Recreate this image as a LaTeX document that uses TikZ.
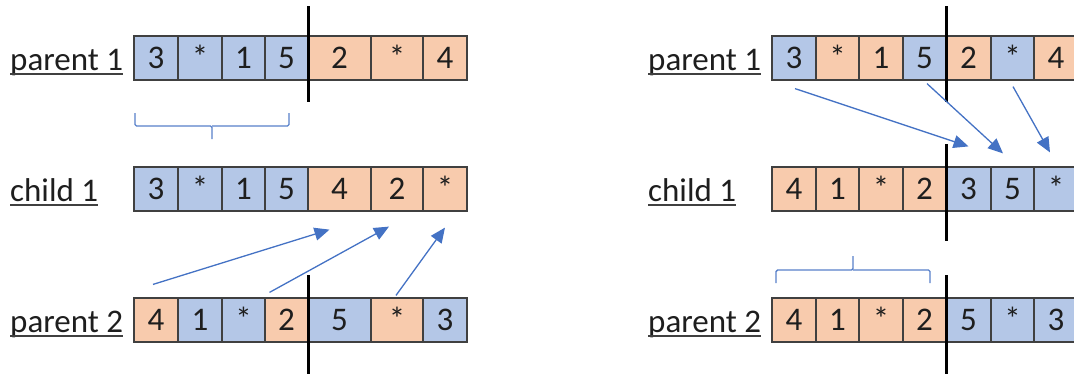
\documentclass[tikz,border=0pt]{standalone}
\usepackage{fontspec}
\setmainfont{Carlito}
\usetikzlibrary{arrows.meta,calc}
\definecolor{cblue}{HTML}{B4C7E7}
\definecolor{corange}{HTML}{F8CBAD}
\definecolor{arrowblue}{HTML}{4472C4}
\definecolor{ink}{HTML}{1E1E1E}
\begin{document}
\begin{tikzpicture}[x=1pt,y=-1pt,
  cell/.style={draw=ink!85, line width=1.2pt, minimum height=44pt, inner sep=0pt,
    text height=21pt, text depth=0pt, text=ink, font=\fontsize{33}{40}\selectfont},
  lab/.style={inner sep=0pt, anchor=base west, text=ink, font=\fontsize{33}{40}\selectfont},
  uline/.style={draw=ink!85, line width=1.6pt},
  cut/.style={draw=black, line width=3.4pt},
  arr/.style={draw=arrowblue, line width=1.3pt, -{Triangle[length=15pt,width=13pt]}},
  brace/.style={draw=arrowblue!90, line width=1.4pt, rounded corners=1.5pt}]
\useasboundingbox (0,0) rectangle (1074,373);
\clip (0,0) rectangle (1074,373);

% ---------- left panel: one-point crossover ----------
\foreach \t/\c/\l/\r [count=\i] in {3/cblue/134/178, */cblue/178/222, 1/cblue/222/265, 5/cblue/265/308,
    2/corange/308/371, */corange/371/423, 4/corange/423/467}
  \node[cell, fill=\c, minimum width={\r-\l}] (L1-\i) at ({(\l+\r)/2},58) {\t};
\foreach \t/\c/\l/\r [count=\i] in {3/cblue/134/178, */cblue/178/222, 1/cblue/222/265, 5/cblue/265/308,
    4/corange/308/371, 2/corange/371/423, */corange/423/467}
  \node[cell, fill=\c, minimum width={\r-\l}] (L2-\i) at ({(\l+\r)/2},189) {\t};
\foreach \t/\c/\l/\r [count=\i] in {4/corange/134/178, 1/cblue/178/222, */cblue/222/265, 2/corange/265/308,
    5/cblue/308/371, */corange/371/423, 3/cblue/423/467}
  \node[cell, fill=\c, minimum width={\r-\l}] (L3-\i) at ({(\l+\r)/2},320) {\t};

\node[lab] (lp1) at (10,70) {parent 1};
\node[lab] (lc1) at (10,201) {child 1};
\node[lab] (lp2) at (10,332) {parent 2};

\draw[cut] ([yshift=29pt]L1-4.north east) -- ([yshift=-21pt]L1-4.south east);
\draw[cut] ([yshift=22pt]L3-4.north east) -- ([yshift=-31pt]L3-4.south east);

\draw[brace] (135,113) |- (212,126) -- (212,139);
\draw[brace] (212,126) -| (289,113);

\draw[arr] ([xshift=-3pt,yshift=13pt]L3-1.north) -- ([xshift=-10pt,yshift=-18pt]L2-5.south);
\draw[arr] ([xshift=-17pt,yshift=5pt]L3-4.north) -- ([xshift=-8pt,yshift=-15pt]L2-6.south);
\draw[arr] ([xshift=-1pt,yshift=2pt]L3-6.north) -- ([xshift=0pt,yshift=-16pt]L2-7.south);

% ---------- right panel: order-preserving crossover ----------
\foreach \t/\c/\l/\r [count=\i] in {3/cblue/772/816, */corange/816/859, 1/corange/859/903, 5/cblue/903/946,
    2/corange/946/991, */cblue/991/1034, 4/corange/1034/1078}
  \node[cell, fill=\c, minimum width={\r-\l}] (R1-\i) at ({(\l+\r)/2},58) {\t};
\foreach \t/\c/\l/\r [count=\i] in {4/corange/772/816, 1/corange/816/859, */corange/859/903, 2/corange/903/946,
    3/cblue/946/991, 5/cblue/991/1034, */cblue/1034/1078}
  \node[cell, fill=\c, minimum width={\r-\l}] (R2-\i) at ({(\l+\r)/2},189) {\t};
\foreach \t/\c/\l/\r [count=\i] in {4/corange/772/816, 1/corange/816/859, */corange/859/903, 2/corange/903/946,
    5/cblue/946/991, */cblue/991/1034, 3/cblue/1034/1078}
  \node[cell, fill=\c, minimum width={\r-\l}] (R3-\i) at ({(\l+\r)/2},320) {\t};

\node[lab] (rp1) at (648,70) {parent 1};
\node[lab] (rc1) at (648,201) {child 1};
\node[lab] (rp2) at (648,332) {parent 2};

\foreach \n in {lp1,lc1,lp2,rp1,rc1,rp2}
  \draw[uline] ([yshift=-4pt]\n.base west) -- ([yshift=-4pt]\n.base east);

\draw[cut] ([yshift=29pt]R1-4.north east) -- ([yshift=-21pt]R1-4.south east);
\draw[cut] ([yshift=22pt]R2-4.north east) -- ([yshift=-29pt]R2-4.south east);
\draw[cut] ([yshift=22pt]R3-4.north east) -- ([yshift=-31pt]R3-4.south east);

\draw[brace] (776,283) |- (853,270) -- (853,256);
\draw[brace] (853,270) -| (930,283);

\draw[arr] ([xshift=1pt,yshift=-8pt]R1-1.south) -- ([xshift=0pt,yshift=20pt]R2-5.north);
\draw[arr] ([xshift=2.5pt,yshift=-3pt]R1-4.south) -- ([xshift=-9.5pt,yshift=13pt]R2-6.north);
\draw[arr] ([xshift=0.5pt,yshift=-6pt]R1-6.south) -- ([xshift=-6pt,yshift=14pt]R2-7.north);
\end{tikzpicture}
\end{document}
